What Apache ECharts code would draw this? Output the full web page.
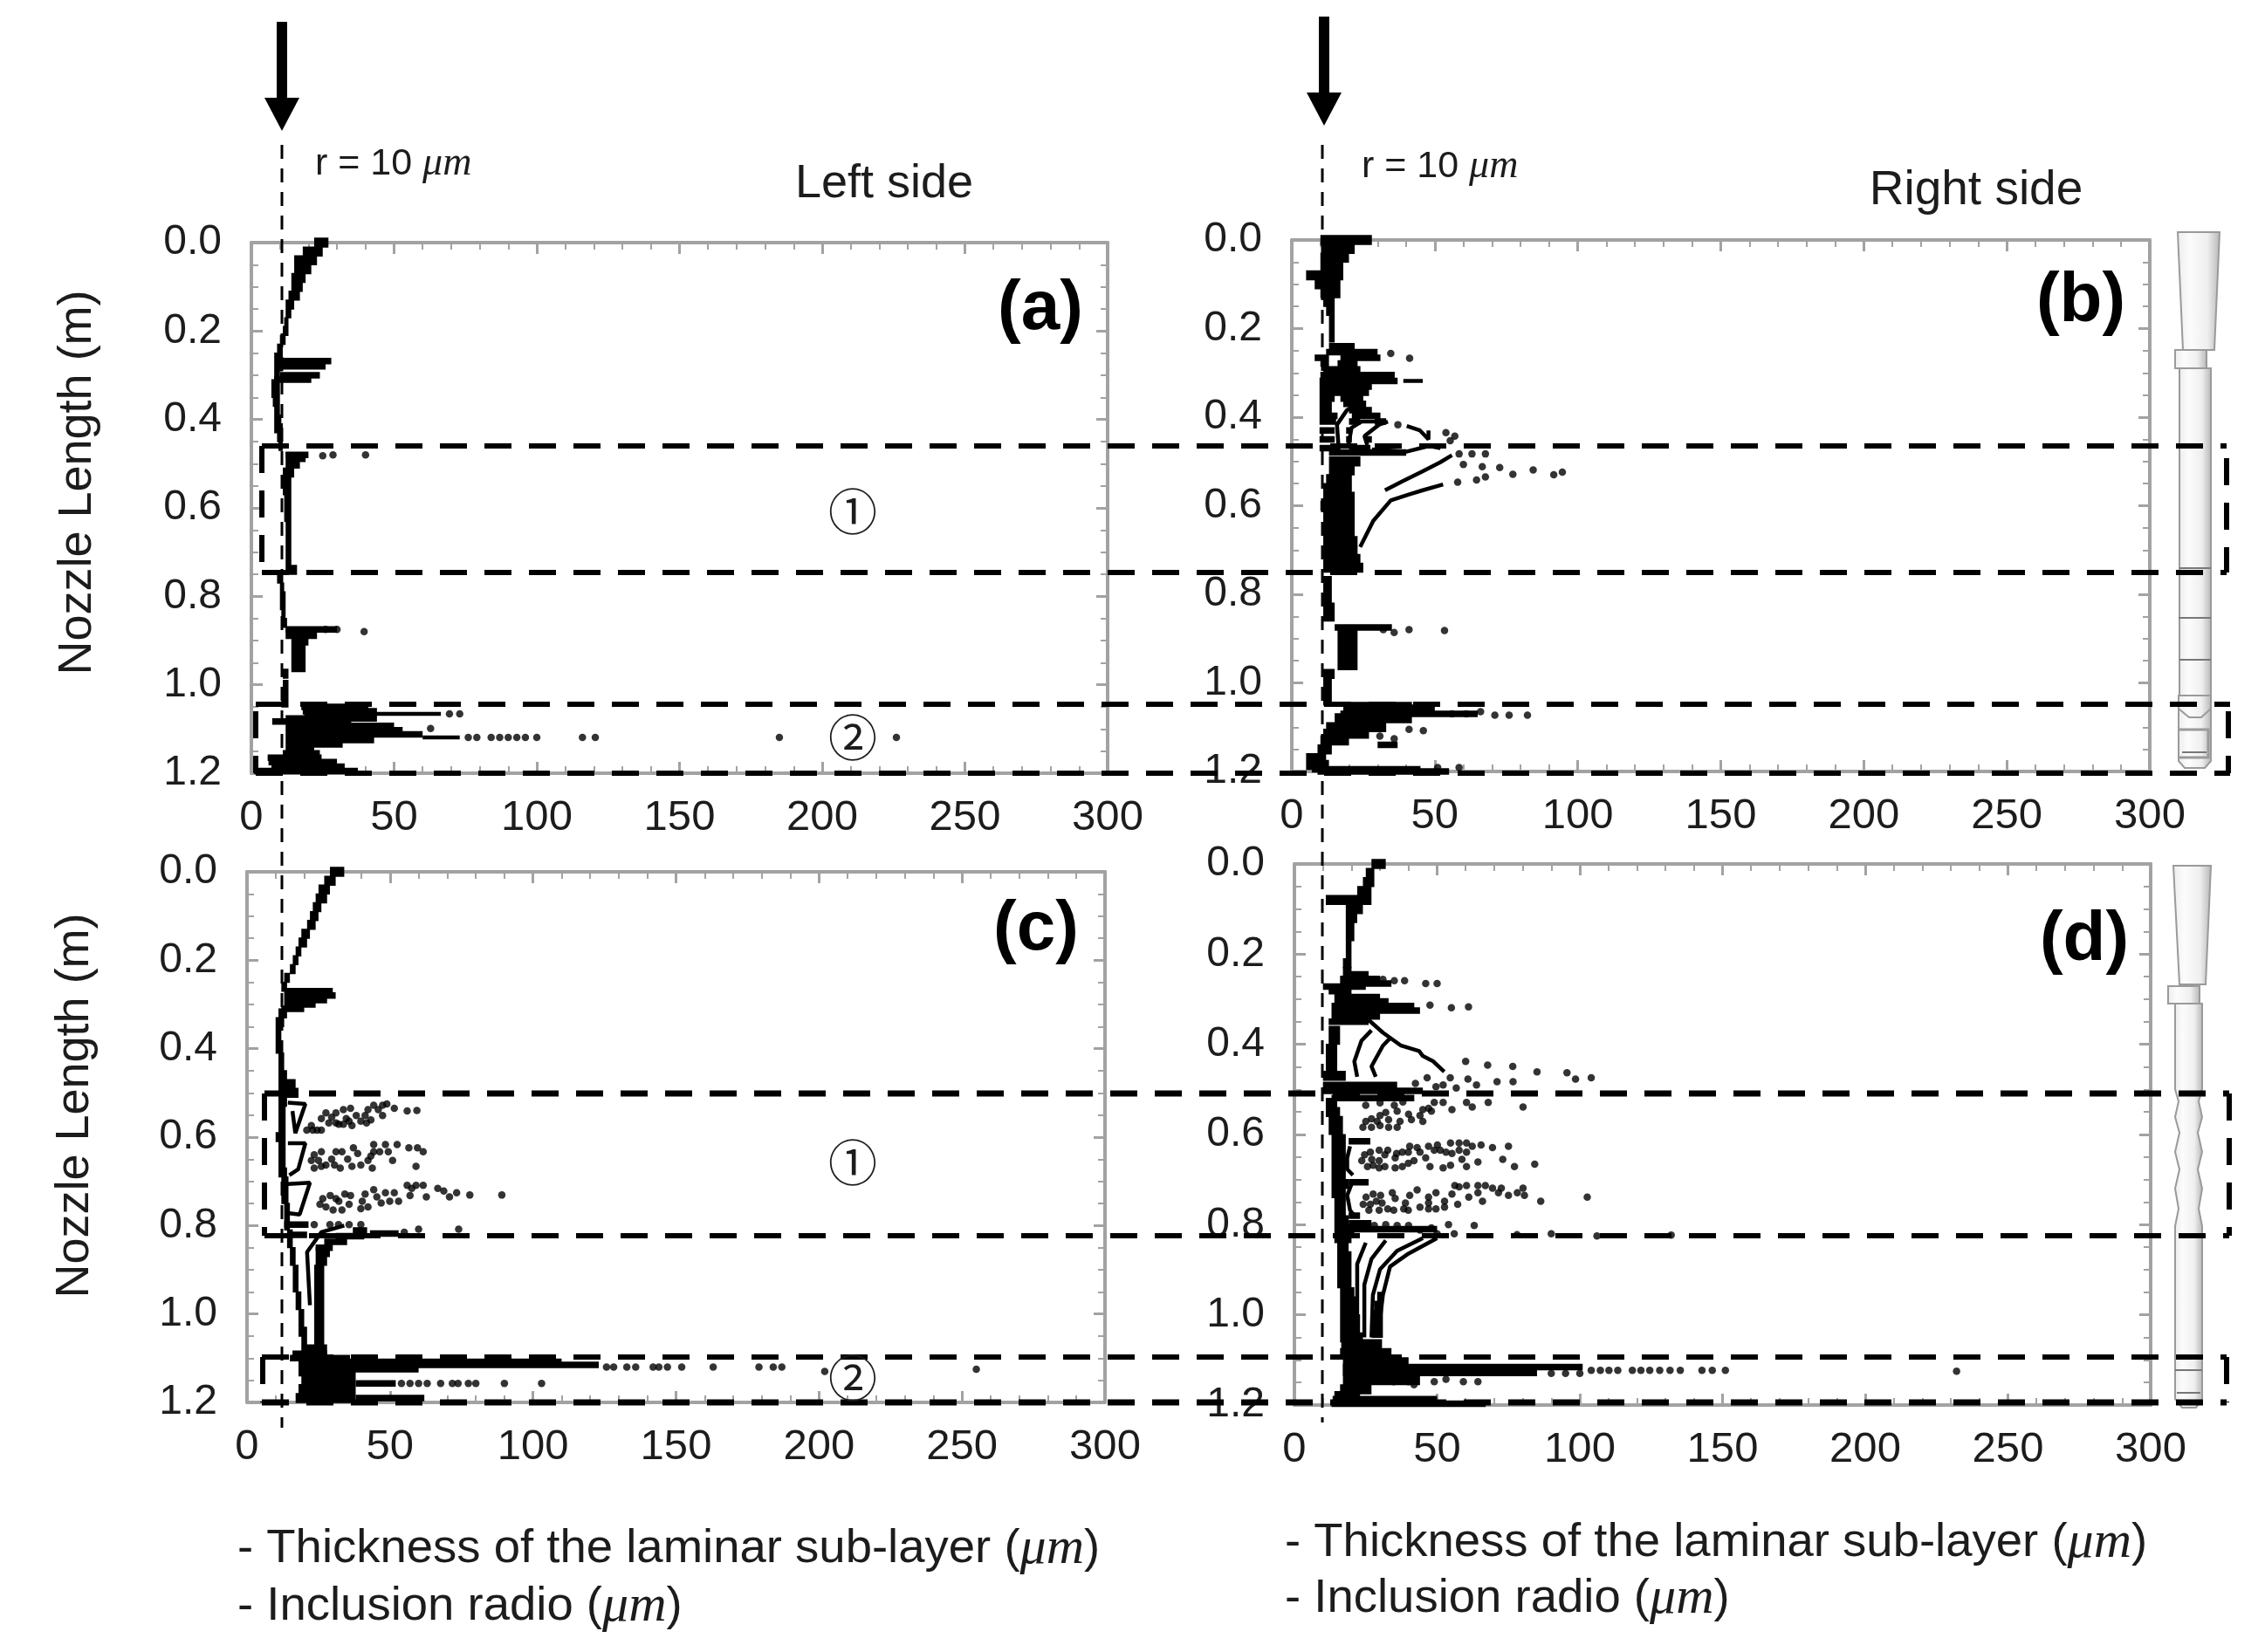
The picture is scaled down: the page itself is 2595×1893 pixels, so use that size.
<!DOCTYPE html>
<html><head><meta charset="utf-8">
<style>html,body{margin:0;padding:0;background:#fff}#c{width:2595px;height:1893px;filter:blur(.5px)}</style>
<script src="https://cdn.jsdelivr.net/npm/echarts@6/dist/echarts.min.js"></script>
</head><body><div id="c"></div>
<script>
// band and streak rows: [length m, x from, x to] in µm; dots: [x µm, length m]
const bandsA=[[0,22,27],[.02,18,25],[.04,15,23],[.06,15,21],[.08,14,19],[.1,14,18],[.12,13,17],[.14,12,15],[.16,12,14],[.18,11.5,13],[.2,11,13],[.22,10,12],[.24,9,11],[.26,8,11],[.28,8,11],[.3,8,10],[.32,7,10],[.34,7,10],[.36,7.5,10],[.38,8,10],[.4,8,10.5],[.42,8,11],[.44,9,11],[.46,9.5,11],[.485,12,19],[.5,12,17],[.52,11,15],[.54,11,14],[.56,11,14],[.58,11.5,14],[.6,11.5,14],[.62,11.5,14],[.64,12,14],[.66,12,14],[.68,12,14],[.7,12,14],[.72,12,14],[.74,12,16],[.76,9,11],[.78,10,11.5],[.8,10,12],[.82,10,12],[.84,10.5,12],[.86,11,12.5],[.885,12,23],[.9,14,20],[.92,14,19],[.94,14,19],[.96,14,19],[.975,11,13],[1,11,13],[1.02,10.5,13],[1.04,10.5,13]];
const streaksA=[[.268,11,28],[.28,10,26],[.3,10,24],[.31,8,21],[.875,12,30],[.48,12,20],[1.05,17.5,41],[1.06,18,44],[1.076,12,44],[1.083,7.3,35],[1.093,12,50],[1.103,12,53],[1.112,12,60],[1.125,12,43],[1.135,12,32],[1.145,12,22],[1.155,11,24],[1.165,5.7,24.6],[1.175,6,30],[1.185,7,32.7],[1.195,1,37.3]];
const curvesA=[[[18.5,1.066],[66.4,1.066]],[[60,1.119],[73,1.119]]];
const dotsA=[[28.6,.48],[25,.482],[40,.48],[26,.875],[30,.875],[39.5,.88],[69.4,1.066],[73,1.066],[62.8,1.099],[76,1.119],[79,1.119],[84,1.119],[87,1.119],[90,1.119],[93,1.119],[96,1.119],[100,1.119],[116,1.119],[120.5,1.119]].concat([[185,1.119],[226,1.119]]);

const bandsB=[[0,10,28],[.02,11,22],[.04,10,20],[.06,10,18],[.08,5,18],[.1,8,17],[.12,10,17],[.14,11,15],[.16,12,15],[.18,13,15],[.2,13,15],[.22,13,15],[.5,13,24],[.52,13,22],[.54,12,21],[.56,11,21],[.58,11,22],[.6,10,22],[.62,11,22],[.64,11,22],[.66,11,22],[.68,11,23],[.7,11,23],[.72,11,24],[.74,11,25],[.77,11,14],[.79,11,14],[.81,11,14],[.83,11,15],[.85,11,15],[.885,16,23],[.9,16,23],[.92,16,23],[.94,16,23],[.96,16,23],[.98,11,15],[1,11,14],[1.02,11,14],[1.04,11,14],[1.06,18,50],[1.08,15,42],[1.1,12,33],[1.115,11,27],[1.13,10,20],[1.15,9,14],[1.17,5,12],[1.185,5,13]];
const streaksB=[[.24,13,22],[.253,12,30],[.266,8,13],[.266,17,31],[.279,10,13],[.279,16,23],[.292,11,24],[.305,10,36],[.318,9.7,37],[.331,9.7,28],[.345,9.7,27],[.358,9.7,15],[.358,17,25],[.37,9.7,14],[.37,18,26],[.384,9.7,14],[.384,20,28],[.397,9.7,16],[.397,21,31],[.41,9.7,15.5],[.41,20,24],[.41,29,33],[.43,9.7,15],[.43,19,21],[.45,9.7,15],[.45,19,21],[.45,25.5,28],[.47,9.7,17],[.47,20,27.5],[.48,13,40],[.875,15,35],[1.05,20,42],[1.07,17,65],[1.14,30,37],[1.195,7,45],[1.2,9,55]];
const curvesB=[[[23.9,.693],[28.5,.634],[34.6,.588],[40.7,.575],[45.8,.565],[52.9,.552]],[[32.6,.565],[38.7,.545],[45.8,.522],[51.9,.502],[56,.486]],[[26.4,.463],[25.4,.443],[30.5,.417],[33.6,.41]],[[40.2,.42],[44.8,.43],[47.8,.45],[47.8,.43]],[[19.8,.463],[20.9,.424],[24.4,.41],[29.5,.41]],[[16.3,.463],[15.8,.417],[19.3,.384],[20.9,.378]],[[28,.473],[40,.478],[48,.465],[52,.47]],[[39,.318],[45.8,.318]]];
const dotsB=[[34.6,.256],[41.2,.267],[37.1,.417],[53.9,.435],[57,.443],[55.4,.453],[58.5,.483],[60,.507],[66.6,.512],[72.7,.514],[77.3,.529],[84.4,.519],[91.6,.53],[94.6,.524],[67.7,.535],[64.6,.542],[58,.547],[63,.483],[67.7,.483],[53.4,.882],[41,.88],[35.8,.886],[32,.88],[82.4,1.073],[76,1.073],[71,1.073],[66,1.065],[61,1.07],[56,1.07],[46,1.108],[41,1.105],[35.8,1.126],[30.8,1.12],[51,1.191],[58.5,1.191]];

const bandsC=[[0,29,34],[.02,27,31],[.04,25,29],[.06,24,28],[.08,23,26],[.1,22,25],[.12,21,24],[.14,19,22],[.16,18,21],[.18,17,19],[.2,16,18],[.22,15,17],[.24,13,15],[.26,12,14],[.32,11,14],[.34,10,13],[.36,10,12],[.38,10,12],[.4,10,12.5],[.42,11,13],[.44,11,13],[.46,11,14],[.48,11,17],[.5,11,18],[.52,11,14],[.54,11,13.5],[.56,11,13.5],[.58,11,13.5],[.6,10,13.5],[.62,11,13.5],[.64,11,13.5],[.66,11,13.5],[.68,11,14],[.7,12,14.5],[.72,12,14.5],[.74,12,14.5],[.76,13,15],[.78,13,15],[.8,13,15],[.82,14,16],[.84,14,16],[.86,15,17],[.88,15,17],[.9,16,18],[.92,16,18],[.94,16,18],[.96,17,19],[.98,17,19],[1,18,20],[1.02,18,20],[1.04,18,21],[1.06,19,21],[.86,24,29],[.88,24,28],[.9,23.5,27],[.92,23.5,27],[.94,23.5,27],[.96,23.5,27],[.98,23.5,27],[1,23.5,27],[1.02,23.5,27],[1.04,23.5,27],[1.06,23.5,27],[1.08,19,28],[1.13,18,38],[1.15,19,38],[1.17,18,38],[1.19,17,38]];
const streaksC=[[.27,13,30],[.28,13,31],[.29,13,28],[.3,13,24],[.31,12,20],[.798,13,21.5],[.821,15,21],[.824,31,41],[.837,27,35],[.85,24,30],[.811,37,42],[.818,43,53],[1.09,15.9,28],[1.1,15,36],[1.108,18,110],[1.115,18,123],[1.125,18,60],[1.157,38,52],[1.19,38,62]];
const curvesC=[[[14.3,.522],[20.4,.525],[16.9,.591],[15.9,.541]],[[14.3,.614],[20.4,.614],[17.9,.673],[14.8,.686]],[[14.3,.706],[22,.703],[18.4,.775],[14.8,.772]],[[22,.98],[21,.86],[26,.815],[34,.8]]];
const dotsC=[[20.9,.584],[22.5,.574],[24.5,.584],[26,.558],[27.6,.545],[28.6,.568],[29.6,.555],[31.1,.545],[32.1,.571],[33.7,.538],[34.7,.558],[36.2,.535],[36.7,.574],[38.2,.551],[39.8,.564],[41.3,.551],[42.3,.538],[43.3,.561],[44.3,.528],[45.9,.538],[47.4,.528],[47.4,.551],[48.9,.525],[51.5,.535],[56,.541],[59.4,.54],[23,.584],[26,.584],[31.1,.568],[33.7,.571],[35.7,.564],[41.8,.568],
[22.5,.653],[23.5,.64],[26,.633],[25,.653],[27.6,.663],[26,.666],[23.5,.67],[29.6,.65],[30.6,.663],[31.1,.633],[33.2,.633],[35.2,.65],[37.2,.624],[38.7,.637],[36.7,.666],[39.8,.663],[42.3,.653],[43.3,.643],[44.3,.617],[44.3,.633],[46.4,.633],[48.4,.617],[49.4,.633],[52.5,.617],[50.9,.653],[43.8,.67],[32.6,.67],[56.6,.624],[59.6,.624],[61.6,.633],[59.1,.666],
[25.5,.752],[26.5,.739],[29.1,.732],[31.1,.739],[27.6,.758],[30.1,.765],[33.2,.765],[35.7,.752],[36.2,.732],[34.2,.729],[32.1,.745],[39.8,.762],[40.3,.745],[42.3,.758],[41.3,.729],[44.3,.719],[45.4,.735],[46.9,.749],[48.4,.726],[49.9,.745],[51.5,.726],[53,.745],[56,.709],[57.6,.716],[59.1,.709],[61.6,.709],[57,.732],[62.7,.735],[66.7,.716],[68.8,.722],[70.8,.735],[73.3,.726],[77.9,.731],[89.1,.731],
[23.5,.798],[29,.798],[32,.798],[35.7,.798],[39.8,.798],[55,.815],[60,.808],[74,.808],
[125.7,1.12],[128.2,1.12],[132.8,1.12],[135.9,1.12],[142,1.12],[144,1.12],[147,1.12],[152,1.12],[163,1.12],[179,1.12],[184,1.12],[187,1.12],[202,1.13],[255,1.125],[54,1.157],[57,1.157],[60,1.157],[63,1.157],[67.7,1.157],[71.8,1.157],[73.8,1.157],[77.4,1.157],[80,1.157],[90,1.157],[103,1.157]];

const bandsD=[[0,27,32],[.02,25,28],[.04,24,28],[.06,22,27],[.08,11,27],[.1,18,24],[.12,18,22],[.14,18,21],[.16,18,21],[.18,18,20],[.2,18,20],[.22,17,20],[.37,12,16],[.39,12,16],[.41,11,15],[.43,11,15],[.45,11,15],[.47,10,18],[.53,11,15],[.55,11,16],[.57,12,17],[.59,12,17],[.61,13,18],[.63,13,18],[.65,13,18],[.67,13,18],[.69,13,18],[.71,13,19],[.73,13,18],[.75,14,18],[.77,14,18],[.79,14,19],[.81,14,21],[.83,14,20],[.85,15,19],[.87,15,20],[.89,15,20],[.91,15,20],[.93,15,20],[.95,16,21],[.97,16,22],[.99,16,22],[1.01,16,23],[1.03,16,23],[1.05,16,24],[1,27,31],[1.02,27,31],[1.04,27,31],[.98,28,31],[.96,29,31],[1.065,16.4,30.7],[1.085,16,34],[1.105,17,40],[1.125,17,80],[1.145,17,44],[1.165,16,27],[1.18,14,23]];
const streaksD=[[.235,17,20],[.245,17,26],[.255,16,30],[.265,16,34],[.272,10,25],[.282,12,20],[.295,14,30],[.305,14,33],[.315,13,42],[.325,13,44],[.338,13,30],[.35,12,26],[.49,10,36],[.503,10,45],[.519,13,42],[.615,19,26.6],[.706,19,26],[.78,19,23],[.797,19,27],[.81,19,50],[1.116,17,101],[1.129,17,85],[1.187,13.4,50],[1.197,13,67]];
const curvesD=[[[30,1.01],[31,.956],[33.5,.893],[40,.864],[50,.83]],[[27,1.05],[27.5,.956],[30,.899],[36,.858],[45,.83]],[[24.5,1.05],[24.5,.933],[27,.876],[32,.835]],[[22,1],[22,.887],[25,.84]],[[22,.472],[21,.438],[23.5,.392],[27,.369]],[[28.5,.472],[27,.449],[31,.403],[33.6,.386]],[[52.5,.461],[48.7,.438],[45,.426],[43.7,.415],[37.4,.403],[31,.374],[26,.346]],[[19.5,.626],[18.5,.652],[18.5,.677],[20.5,.69]],[[20,.71],[18.5,.735],[19.5,.768],[21,.78]]];
const dotsD=[[60,.438],[67.7,.446],[76.5,.449],[85,.461],[95.5,.463],[54.6,.474],[60.8,.477],[63.8,.49],[71,.483],[76.6,.483],[98.5,.477],[104,.474],[46.5,.474],[42.4,.487],[49.6,.494],[52.1,.49],[56.7,.497],[67.9,.529],[80.1,.539],[62.3,.539],[60.3,.529],[55.2,.545],[52.1,.529],[49,.529],[47,.542],[50,.265],[46,.265],[38.6,.259],[35,.259],[31,.256],[61,.317],[55,.319],[47.5,.313],
[25,.535],[30,.53],[35,.535],[45,.545],[48,.548],[40,.555],[36,.548],[32,.551],[44,.558],[30,.558],[27,.565],[25,.571],[29,.571],[33,.567],[37,.571],[41,.567],[45,.571],[24,.584],[27,.584],[30,.58],[33,.584],[36,.584],[38,.528],
[23.6,.658],[24.6,.645],[26.6,.639],[29.7,.635],[31.7,.645],[29.7,.658],[27.6,.668],[25.6,.671],[29.7,.674],[31.7,.671],[27.1,.655],[32.7,.635],[35.8,.642],[35.3,.652],[37.8,.639],[40.4,.626],[43,.629],[39.9,.639],[44,.639],[47,.626],[49,.635],[51.1,.635],[53.1,.639],[50.1,.623],[54.7,.619],[57.7,.619],[60.3,.619],[62.3,.626],[65.4,.623],[69.4,.629],[75,.626],[57.7,.635],[60.3,.639],[55.2,.642],[46,.652],[41.9,.658],[39.9,.664],[37.8,.671],[35.3,.674],[58.7,.655],[64.3,.661],[73,.655],[60.3,.671],[54.7,.668],[52.1,.674],[47.5,.671],[77.1,.671],[84.2,.666],
[24.1,.755],[25.1,.739],[27.6,.732],[30.2,.735],[26.6,.755],[28.7,.748],[30.7,.752],[26.1,.768],[29.7,.768],[34.3,.729],[35.3,.742],[34.8,.768],[32.7,.765],[38.3,.765],[39.9,.768],[38.9,.752],[40.4,.735],[43,.723],[44,.761],[47,.739],[47,.752],[47,.765],[49.6,.729],[49.6,.765],[52.6,.748],[52.6,.761],[55.2,.732],[57.2,.755],[61.1,.739],[56.2,.713],[57.7,.716],[60.3,.713],[64.3,.713],[66.9,.713],[64.3,.729],[69.4,.719],[71.5,.729],[75,.735],[72.5,.719],[78.1,.729],[80.1,.719],[80.6,.735],[65.9,.748],[86.3,.748],[102.6,.739],
[28,.802],[32,.8],[36,.802],[40,.802],[44,.812],[54,.8],[48,.807],[63,.802],[50,.82],[56,.82],[78,.822],[90,.82],[106,.825],[132,.823],
[104,1.123],[107.2,1.123],[110.2,1.123],[113.3,1.123],[118.4,1.123],[121.4,1.123],[124.5,1.123],[128,1.123],[131.6,1.123],[135.2,1.123],[142.8,1.123],[146.4,1.123],[151,1.123],[232,1.125],[90,1.13],[95,1.13],[100,1.13],[34.8,1.148],[39.9,1.148],[41.9,1.155],[49,1.148],[53.1,1.143],[59.2,1.148],[64.3,1.148]];

const xTicks=[0,50,100,150,200,250,300];
const panelData=[[bandsA,streaksA,curvesA,dotsA],[bandsB,streaksB,curvesB,dotsB],[bandsC,streaksC,curvesC,dotsC],[bandsD,streaksD,curvesD,dotsD]];
const grids=[{left:288,top:278,width:981,height:608},{left:1480,top:275,width:983,height:609},{left:283,top:999,width:983,height:608},{left:1483,top:990,width:981,height:620}];
const FONT='"Liberation Sans",Arial,sans-serif', GREY='#a2a2a2', INK='#1c1c1c';

const seg=rows=>rows.flatMap(r=>[[r[1],r[0]],[r[2],r[0]],['-','-']]);
const joined=cs=>cs.flatMap(c=>[...c,['-','-']]);
const xAxis=[],yAxis=[],series=[];
grids.forEach((g,i)=>{
  const tick={show:true,inside:true,length:13,lineStyle:{color:GREY,width:3}};
  const minor={show:true,length:8,lineStyle:{color:GREY,width:2}};
  const line={show:true,onZero:false,lineStyle:{color:GREY,width:4}};
  const xb={type:'value',gridIndex:i,min:0,max:300,interval:50,axisLine:line,axisTick:tick,splitLine:{show:false},minorTick:{...minor,splitNumber:5}};
  xAxis.push({...xb,position:'bottom',axisLabel:{fontFamily:FONT,fontSize:49,color:INK,margin:27,customValues:xTicks}});
  xAxis.push({...xb,position:'top',axisLabel:{show:false}});
  const yb={type:'value',gridIndex:i,min:0,max:1.2,interval:.2,inverse:true,axisLine:line,axisTick:tick,splitLine:{show:false},minorTick:{...minor,splitNumber:4}};
  yAxis.push({...yb,position:'left',axisLabel:{fontFamily:FONT,fontSize:48,color:INK,margin:34,padding:[6,0,0,0],formatter:v=>v.toFixed(1)}});
  yAxis.push({...yb,position:'right',axisLabel:{show:false}});
  const [bands,streaks,curves,dots]=panelData[i];
  const ax={xAxisIndex:i*2,yAxisIndex:i*2};
  const ln=(d,w)=>({type:'line',...ax,data:d,showSymbol:false,symbol:'none',clip:false,connectNulls:false,silent:true,lineStyle:{color:'#000',width:w,cap:'butt'},z:3});
  series.push(ln(seg(bands),11.5),ln(seg(streaks),7.5));
  if(curves.length) series.push(ln(joined(curves),4.5));
  series.push({type:'scatter',...ax,data:dots,symbolSize:8.5,itemStyle:{color:'#000'},silent:true,z:4});
});

// annotations
const G=[];
const txt=(t,x,y,size,o={})=>G.push({type:'text',z:50,x,y,rotation:o.rot||0,style:{text:t,fontFamily:o.font||FONT,fontSize:size,fontWeight:o.bold?'bold':'normal',fill:o.fill||INK,textAlign:o.align||'center',textVerticalAlign:'middle',rich:o.rich}});
const mu=s=>({i:{fontFamily:'"Liberation Serif",serif',fontStyle:'italic',fontSize:s,fill:INK}});
const dash=(x1,y1,x2,y2,w=6,d=[31,20])=>G.push({type:'line',z:40,shape:{x1,y1,x2,y2},style:{stroke:'#000',lineWidth:w,lineDash:d}});
const arrow=(x,y0,y1,y2)=>{G.push({type:'rect',z:40,shape:{x:x-6,y:y0,width:12,height:y1-y0},style:{fill:'#000'}});G.push({type:'polygon',z:40,shape:{points:[[x-20,y1],[x+20,y1],[x,y2]]},style:{fill:'#000'}});};
arrow(323,25,112,150);arrow(1517,19,106,144);
dash(323,166,323,1636,3,[16,11]);dash(1515,166,1515,1630,3,[16,11]);
txt('r = 10 {i|μm}',361,188,43,{align:'left',rich:mu(46)});
txt('r = 10 {i|μm}',1560,191,43,{align:'left',rich:mu(46)});
txt('Left side',1013,211,54);txt('Right side',2264,219,55);
txt('(a)',1192,355,80,{bold:1,fill:'#000'});txt('(b)',2384,346,80,{bold:1,fill:'#000'});
txt('(c)',1187,1066,80,{bold:1,fill:'#000'});txt('(d)',2388,1078,80,{bold:1,fill:'#000'});
const circ='"Noto Sans CJK JP",sans-serif';
txt('①',977,586,56,{font:circ});txt('②',977,845,56,{font:circ});
txt('①',977,1332,56,{font:circ});txt('②',977,1579,56,{font:circ});
txt('Nozzle Length (m)',89,553,54,{rot:Math.PI/2});
txt('Nozzle Length (m)',86,1267,54,{rot:Math.PI/2});
txt('- Thickness of the laminar sub-layer ({i|μm})',272,1775,54.5,{align:'left',rich:mu(60)});
txt('- Inclusion radio ({i|μm})',272,1841,54.5,{align:'left',rich:mu(60)});
txt('- Thickness of the laminar sub-layer ({i|μm})',1472,1768,54.5,{align:'left',rich:mu(60)});
txt('- Inclusion radio ({i|μm})',1472,1832,54.5,{align:'left',rich:mu(60)});
// region boxes
dash(300,511,2551,511);dash(300,656,2551,656);dash(300,511,300,656);dash(2551,525,2551,656);
dash(293,807,2555,807);dash(293,886,2555,886);dash(293,815,293,886);dash(2553,815,2553,886);
dash(303,1253,2554,1253,7);dash(303,1416,2554,1416);dash(303,1253,303,1416);dash(2554,1253,2554,1416);
dash(300,1555,2551,1555);dash(300,1607,2551,1607,7);dash(301,1555,301,1607);dash(2551,1555,2551,1607);
// nozzle sketches
const shade=()=>new echarts.graphic.LinearGradient(0,0,1,0,[{offset:0,color:'#ececec'},{offset:.3,color:'#fcfcfc'},{offset:.7,color:'#efefef'},{offset:1,color:'#b4b4b4'}]);
const poly=(pts,f=true,w=2)=>G.push({type:f?'polygon':'polyline',z:30,shape:{points:pts},style:{fill:f?shade():null,stroke:'#9a9a9a',lineWidth:w}});
const ring=(x1,x2,y)=>G.push({type:'line',z:31,shape:{x1,y1:y,x2,y2:y},style:{stroke:'#777',lineWidth:2}});
poly([[2495,266],[2543,266],[2537,401],[2501,401]]);
poly([[2492,401],[2528,401],[2528,422],[2492,422]]);
poly([[2497,422],[2533,422],[2533,797],[2497,797]]);
ring(2497,2533,651);ring(2496,2533,708);ring(2497,2533,756);
poly([[2496,797],[2533,797],[2533,872],[2526,880],[2503,880],[2496,872]]);
poly([[2496,812],[2508,822],[2522,822],[2533,812]],false);
poly([[2497,836],[2530,836],[2530,868],[2497,868]],false,3);
ring(2500,2528,862);
poly([[2490,992],[2533,992],[2527,1128],[2497,1128]]);
poly([[2484,1130],[2520,1130],[2520,1150],[2484,1150]]);
poly([[2492,1150],[2523,1150],[2523,1248],[2519,1262],[2523,1280],[2518,1298],[2523,1320],[2518,1340],[2523,1362],[2519,1385],[2523,1405],[2523,1553],[2492,1553],[2492,1405],[2496,1385],[2492,1362],[2497,1340],[2492,1320],[2497,1298],[2492,1280],[2496,1262],[2492,1248]]);
poly([[2492,1555],[2523,1555],[2523,1603],[2516,1613],[2500,1613],[2492,1603]]);
ring(2492,2523,1570);ring(2494,2521,1596);

const chart=echarts.init(document.getElementById('c'),null,{renderer:'canvas'});
chart.setOption({animation:false,backgroundColor:'#fff',grid:grids.map(g=>({...g,containLabel:false})),xAxis,yAxis,series,graphic:G});
</script></body></html>
